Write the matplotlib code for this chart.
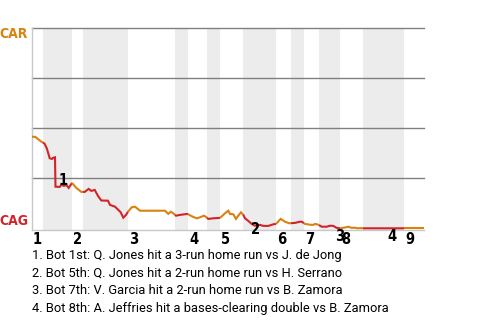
import numpy as np
import matplotlib
matplotlib.use("Agg")
import matplotlib.pyplot as plt

# game progress (0..392) and CAR win probability
prog = [0, 3.3, 9.3, 11, 12.7, 15, 17.7, 20, 21, 23, 23.5, 27.7, 29.3, 32, 34.3, 36.7,
        40, 44.3, 49.3, 51, 52.7, 56.7, 59.3, 62.7, 66, 69.3, 76, 78, 83, 86.3, 88.7,
        91.3, 94, 96, 99.7, 103, 108, 133, 136.3, 138.7, 141.3, 144, 148, 155.3, 160.7,
        164.7, 168, 172, 174, 176.3, 181.3, 188, 193, 196.3, 198, 201.3, 204, 206.3,
        209, 211.3, 213, 216.3, 219.7, 223, 228, 231.3, 236.3, 241.3, 244, 248.7, 253,
        257.3, 263, 268, 269.7, 273, 278, 281.3, 283, 286.3, 289.7, 294.7, 298, 301.3,
        304.7, 308, 313, 316.3, 319.7, 323, 325.3, 329, 331.3, 372, 392]
wp = [0.458, 0.457, 0.433, 0.429, 0.422, 0.397, 0.350, 0.347, 0.352, 0.355, 0.208,
      0.207, 0.217, 0.212, 0.217, 0.202, 0.227, 0.202, 0.182, 0.182, 0.182, 0.197,
      0.187, 0.192, 0.162, 0.139, 0.138, 0.117, 0.108, 0.092, 0.080, 0.053, 0.067,
      0.083, 0.105, 0.108, 0.088, 0.088, 0.072, 0.083, 0.075, 0.063, 0.067, 0.072,
      0.058, 0.050, 0.055, 0.063, 0.057, 0.047, 0.050, 0.052, 0.075, 0.088, 0.072,
      0.070, 0.047, 0.063, 0.080, 0.067, 0.050, 0.037, 0.022, 0.013, 0.017, 0.012,
      0.012, 0.020, 0.022, 0.047, 0.033, 0.025, 0.027, 0.033, 0.033, 0.022, 0.018,
      0.017, 0.022, 0.018, 0.008, 0.008, 0.013, 0.012, 0.002, 0.0, 0.004, 0.008,
      0.002, 0.003, 0.0, 0.001, 0.0, 0.0, 0.0]

# half-inning boundaries (top, bottom, top, ...)
half_starts = [0, 11, 40, 51, 96, 143, 156, 175, 188, 211, 244, 259, 272, 287, 308, 331, 372, 392]
innings = ['1', '2', '3', '4', '5', '6', '7', '8', '9']

events = ['1', '2', '3', '4']
event_x = [31.3, 223.7, 308, 359.5]
event_y = [0.237, -0.006, -0.039, -0.039]
notes = ["1. Bot 1st: Q. Jones hit a 3-run home run vs J. de Jong",
         "2. Bot 5th: Q. Jones hit a 2-run home run vs H. Serrano",
         "3. Bot 7th: V. Garcia hit a 2-run home run vs B. Zamora",
         "4. Bot 8th: A. Jeffries hit a bases-clearing double vs B. Zamora"]

ORANGE = '#D8820F'
RED = '#D2232A'
bold = dict(family='DejaVu Sans', fontstretch='condensed', fontweight='bold')

fig = plt.figure(figsize=(4.8, 3.2), dpi=100)
ax = fig.add_axes([32 / 480, 1 - 230 / 320, 392 / 480, 201.7 / 320])
ax.set_xlim(0, 392)
ax.set_ylim(-0.0085, 1.0)

xs = np.array(prog)
ys = np.array(wp)
for i in range(len(half_starts) - 1):
    a, b = half_starts[i], half_starts[i + 1]
    if i % 2 == 1:
        ax.axvspan(a, b, color='#ececec', lw=0, zorder=0)
    m = (xs > a) & (xs < b)
    sx = np.concatenate([[a], xs[m], [b]])
    sy = np.concatenate([[np.interp(a, xs, ys)], ys[m], [np.interp(b, xs, ys)]])
    ax.plot(sx, sy, color=ORANGE if i % 2 == 0 else RED, lw=1.5, zorder=3,
            solid_capstyle='butt', solid_joinstyle='miter')

for g in [0.25, 0.5, 0.75, 1.0]:
    ax.axhline(g, color='#808080', lw=1.0, zorder=1, clip_on=False)

for s in ['top', 'right']:
    ax.spines[s].set_visible(False)
for s in ['left', 'bottom']:
    ax.spines[s].set_color('#c8c8c8')
    ax.spines[s].set_linewidth(1.0)
ax.set_xticks([])
ax.set_yticks([])

fig.text(28 / 480, 1 - 34.5 / 320, 'CAR', color=ORANGE, ha='right', va='center',
         fontsize=10, **bold)
fig.text(28 / 480, 1 - 221 / 320, 'CAG', color=RED, ha='right', va='center',
         fontsize=10, **bold)

for k, lab in enumerate(innings):
    ax.text(half_starts[2 * k] + 1, -0.055, lab, ha='left', va='center',
            fontsize=10.5, clip_on=False, **bold)

for lab, ex, ey in zip(events, event_x, event_y):
    ax.text(ex, ey, lab, ha='center', va='center', fontsize=10.5,
            clip_on=False, zorder=5, **bold)

for k, n in enumerate(notes):
    fig.text(32 / 480, 1 - (255 + 17.7 * k) / 320, n, ha='left', va='center',
             fontsize=9.3, family=['Roboto', 'DejaVu Sans'])

fig.savefig('out.png', dpi=100)
